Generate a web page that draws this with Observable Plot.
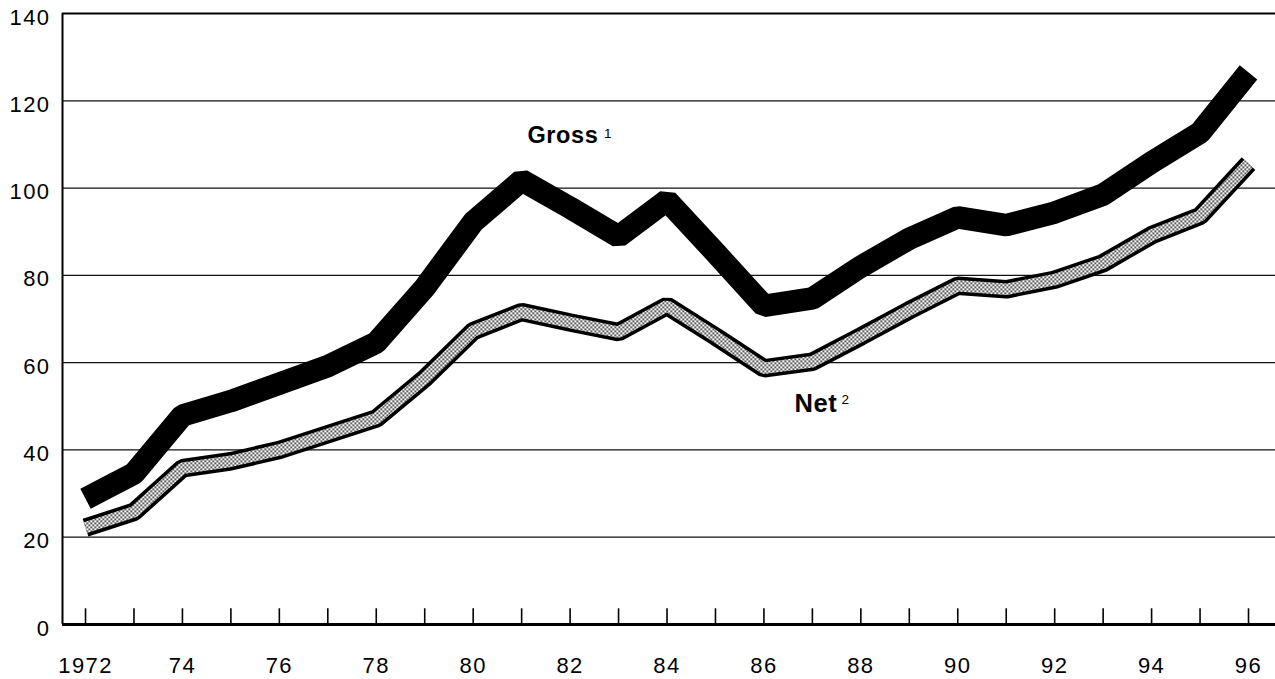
<!DOCTYPE html>
<html>
<head>
<meta charset="utf-8">
<script src="https://cdn.jsdelivr.net/npm/d3@7"></script>
<script src="https://cdn.jsdelivr.net/npm/@observablehq/plot@0.6"></script>
<style>
  html, body { margin: 0; padding: 0; background: #fff; }
  #chart svg { display: block; }
  #chart svg g[aria-label="x-axis tick label"] text,
  #chart svg g[aria-label="y-axis tick label"] text { letter-spacing: 1.4px; }
  #chart svg g.series-label text { letter-spacing: 0.6px; }
</style>
</head>
<body>
<div id="chart"></div>
<script>
// Data
const years = [1972,1973,1974,1975,1976,1977,1978,1979,1980,1981,1982,1983,1984,1985,1986,1987,1988,1989,1990,1991,1992,1993,1994,1995,1996];
const gross = [28.8,34.6,47.9,51.2,55.2,59.2,64.6,77.2,92.2,101.8,95.5,88.9,97.2,85.2,73.0,74.7,82.0,88.4,93.3,91.5,94.4,98.5,105.9,112.7,126.5];
const net   = [22.2,25.8,35.8,37.4,40.0,43.6,47.2,56.4,67.2,71.6,69.2,67.0,73.0,66.0,58.7,60.2,66.0,72.0,77.6,76.8,79.0,82.8,89.2,93.6,105.6];
const xTickValues = [1972,1974,1976,1978,1980,1982,1984,1986,1988,1990,1992,1994,1996];
const xTickLabels = ["1972","74","76","78","80","82","84","86","88","90","92","94","96"];
const yGrid = [20,40,60,80,100,120];
const yTicks = [0,20,40,60,80,100,120,140];
const seriesLabels = [
  {text: "Gross", sup: "1", x: 1981.12, y: 110.4, sx: 1982.7, sy: 111.5, size: 23.5},
  {text: "Net", sup: "2", x: 1986.63, y: 48.8, sx: 1987.6, sy: 50.6, size: 25.5}
];

const rows = years.map((year, i) => ({year, gross: gross[i], net: net[i]}));
const xDomain = [1971.525, 1996.557];

const plot = Plot.plot({
  width: 1275,
  height: 679,
  marginLeft: 62,
  marginRight: 0,
  marginTop: 13,
  marginBottom: 55,
  style: {fontFamily: "'Liberation Sans', Arial, sans-serif", background: "#fff", color: "#000"},
  x: {type: "linear", domain: xDomain, axis: null},
  y: {domain: [0, 140], axis: null},
  marks: [
    Plot.ruleY(yGrid, {stroke: "#111", strokeWidth: 1.2}),
    Plot.ruleY([140], {stroke: "#000", strokeWidth: 2.2}),
    Plot.ruleX([xDomain[0]], {y1: 0, y2: 140, stroke: "#000", strokeWidth: 2}),
    Plot.ruleX(years, {y1: 0, y2: 3.6, stroke: "#000", strokeWidth: 1.6}),
    Plot.ruleY([0], {stroke: "#000", strokeWidth: 3}),
    Plot.axisY(yTicks, {tickSize: 0, tickPadding: 12, fontSize: 22, dy: 4}),
    Plot.axisX(xTickValues, {tickSize: 0, tickPadding: 33, fontSize: 22,
      tickFormat: (d) => xTickLabels[xTickValues.indexOf(d)]}),
    // Net: black outline + stippled core
    Plot.line(rows, {x: "year", y: "net", stroke: "#000", strokeWidth: 18.5, strokeLinejoin: "miter", strokeLinecap: "butt"}),
    Plot.line(rows, {x: "year", y: "net", stroke: "url(#stipple)", strokeWidth: 11.5, strokeLinejoin: "miter", strokeLinecap: "butt"}),
    // Gross: thick black
    Plot.line(rows, {x: "year", y: "gross", stroke: "#000", strokeWidth: 22.5, strokeLinejoin: "miter", strokeLinecap: "butt"}),
    Plot.text(seriesLabels, {x: "x", y: "y", text: "text", textAnchor: "start", lineAnchor: "bottom", fontSize: (d) => d.size, fontWeight: "bold", fill: "#000", className: "series-label"}),
    Plot.text(seriesLabels, {x: "sx", y: "sy", text: "sup", textAnchor: "start", lineAnchor: "bottom", fontSize: 13.5, fill: "#000"})
  ]
});

// stipple pattern for the Net line
const ns = "http://www.w3.org/2000/svg";
const defs = document.createElementNS(ns, "defs");
const pat = document.createElementNS(ns, "pattern");
pat.setAttribute("id", "stipple");
pat.setAttribute("width", "4");
pat.setAttribute("height", "4");
pat.setAttribute("patternUnits", "userSpaceOnUse");
const bg = document.createElementNS(ns, "rect");
bg.setAttribute("width", "4"); bg.setAttribute("height", "4"); bg.setAttribute("fill", "#fff");
pat.appendChild(bg);
for (const [dx, dy] of [[0, 0], [2, 2]]) {
  const dot = document.createElementNS(ns, "rect");
  dot.setAttribute("x", dx); dot.setAttribute("y", dy);
  dot.setAttribute("width", "1.6"); dot.setAttribute("height", "1.6"); dot.setAttribute("fill", "#000");
  pat.appendChild(dot);
}
defs.appendChild(pat);
plot.insertBefore(defs, plot.firstChild);

document.getElementById("chart").appendChild(plot);
</script>
</body>
</html>
